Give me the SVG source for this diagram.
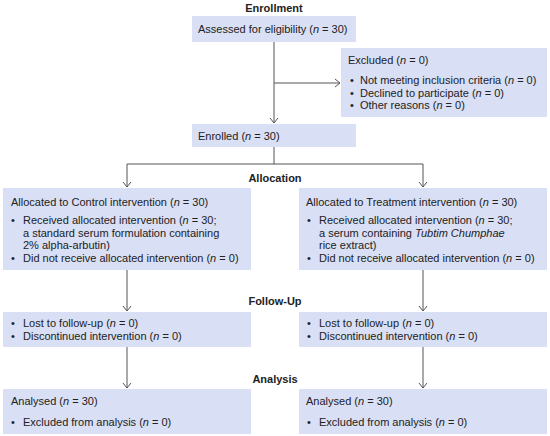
<svg xmlns="http://www.w3.org/2000/svg" width="550" height="436" viewBox="0 0 550 436">
<defs>
<style>
.box{fill:#d9dff5;stroke:none}
text{font-family:"Liberation Sans",Arial,sans-serif;font-size:11px;fill:#222}
.hd{font-weight:bold;text-anchor:middle}
.ln{stroke:#555;stroke-width:1;fill:none}
</style>
<marker id="ah" markerWidth="8" markerHeight="10" refX="6" refY="5" orient="auto" markerUnits="userSpaceOnUse">
<path d="M1,1 L6,5 L1,9" fill="none" stroke="#555" stroke-width="1"/>
</marker>
</defs>
<rect width="550" height="436" fill="#fff"/>
<g id="headers">
<text class="hd" x="274" y="12">Enrollment</text>
<text class="hd" x="275" y="182">Allocation</text>
<text class="hd" x="275" y="305">Follow-Up</text>
<text class="hd" x="275" y="383">Analysis</text>
</g>
<g id="connectors">
<path class="ln" d="M274,42 V123" marker-end="url(#ah)"/>
<path class="ln" d="M274,83 H340" marker-end="url(#ah)"/>
<path class="ln" d="M274,147 V164 M127,164 H423"/>
<path class="ln" d="M127,164 V187" marker-end="url(#ah)"/>
<path class="ln" d="M423,164 V187" marker-end="url(#ah)"/>
<path class="ln" d="M127,270 V311" marker-end="url(#ah)"/>
<path class="ln" d="M423,270 V311" marker-end="url(#ah)"/>
<path class="ln" d="M127,347 V388" marker-end="url(#ah)"/>
<path class="ln" d="M423,347 V388" marker-end="url(#ah)"/>
</g>
<g id="assessed">
<rect class="box" x="192" y="16" width="164" height="26"/>
<text x="198" y="33">Assessed for eligibility (<tspan font-style="italic">n</tspan> = 30)</text>
</g>
<g id="excluded">
<rect class="box" x="341" y="48" width="206" height="69"/>
<text x="348" y="64">Excluded (<tspan font-style="italic">n</tspan> = 0)</text>
<text x="350" y="84">•</text><text x="360" y="84">Not meeting inclusion criteria (<tspan font-style="italic">n</tspan> = 0)</text>
<text x="350" y="96.5">•</text><text x="360" y="96.5">Declined to participate (<tspan font-style="italic">n</tspan> = 0)</text>
<text x="350" y="109">•</text><text x="360" y="109">Other reasons (<tspan font-style="italic">n</tspan> = 0)</text>
</g>
<g id="enrolled">
<rect class="box" x="192" y="124" width="164" height="23"/>
<text x="198" y="139.5">Enrolled (<tspan font-style="italic">n</tspan> = 30)</text>
</g>
<g id="control">
<rect class="box" x="3" y="188" width="248" height="82"/>
<text x="11" y="206">Allocated to Control intervention (<tspan font-style="italic">n</tspan> = 30)</text>
<text x="11" y="224">•</text><text x="23" y="224">Received allocated intervention (<tspan font-style="italic">n</tspan> = 30;</text>
<text x="23" y="236.5">a standard serum formulation containing</text>
<text x="23" y="249">2% alpha-arbutin)</text>
<text x="11" y="261.5">•</text><text x="23" y="261.5">Did not receive allocated intervention (<tspan font-style="italic">n</tspan> = 0)</text>
</g>
<g id="treatment">
<rect class="box" x="299" y="188" width="248" height="82"/>
<text x="306" y="206">Allocated to Treatment intervention (<tspan font-style="italic">n</tspan> = 30)</text>
<text x="307" y="224">•</text><text x="319" y="224">Received allocated intervention (<tspan font-style="italic">n</tspan> = 30;</text>
<text x="319" y="236.5">a serum containing <tspan font-style="italic">Tubtim Chumphae</tspan></text>
<text x="319" y="249">rice extract)</text>
<text x="307" y="261.5">•</text><text x="319" y="261.5">Did not receive allocated intervention (<tspan font-style="italic">n</tspan> = 0)</text>
</g>
<g id="followup-control">
<rect class="box" x="3" y="312" width="248" height="35"/>
<text x="11" y="327">•</text><text x="23" y="327">Lost to follow-up (<tspan font-style="italic">n</tspan> = 0)</text>
<text x="11" y="340">•</text><text x="23" y="340">Discontinued intervention (<tspan font-style="italic">n</tspan> = 0)</text>
</g>
<g id="followup-treatment">
<rect class="box" x="299" y="312" width="248" height="35"/>
<text x="307" y="327">•</text><text x="319" y="327">Lost to follow-up (<tspan font-style="italic">n</tspan> = 0)</text>
<text x="307" y="340">•</text><text x="319" y="340">Discontinued intervention (<tspan font-style="italic">n</tspan> = 0)</text>
</g>
<g id="analysis-control">
<rect class="box" x="3" y="389" width="248" height="45"/>
<text x="11" y="405">Analysed (<tspan font-style="italic">n</tspan> = 30)</text>
<text x="11" y="426">•</text><text x="23" y="426">Excluded from analysis (<tspan font-style="italic">n</tspan> = 0)</text>
</g>
<g id="analysis-treatment">
<rect class="box" x="299" y="389" width="248" height="45"/>
<text x="306" y="405">Analysed (<tspan font-style="italic">n</tspan> = 30)</text>
<text x="307" y="426">•</text><text x="319" y="426">Excluded from analysis (<tspan font-style="italic">n</tspan> = 0)</text>
</g>
</svg>
